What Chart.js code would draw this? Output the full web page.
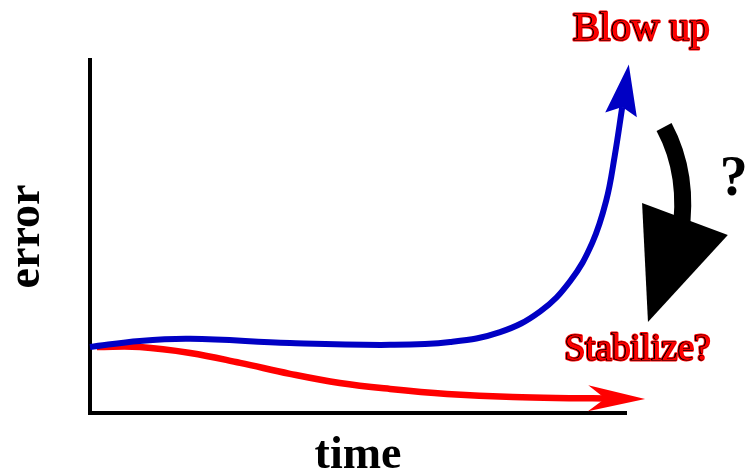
<!DOCTYPE html>
<html>
<head>
<meta charset="utf-8">
<script src="https://cdn.jsdelivr.net/npm/chart.js@4/dist/chart.umd.min.js"></script>
<style>
  html, body { margin: 0; padding: 0; background: #fff; }
  #wrap { width: 745px; height: 472px; }
</style>
</head>
<body>
<div id="wrap"><canvas id="errChart"></canvas></div>
<script>
// time / error samples (axis units 0..10)
var timeBlue = [0, 0.93, 1.87, 3.73, 5.6, 6.72, 7.65, 8.4, 8.96, 9.37, 9.63, 9.79, 9.93];
var errorBlue = [1.87, 2.04, 2.10, 1.98, 1.93, 2.01, 2.29, 2.88, 3.74, 4.82, 6.01, 7.29, 8.67];
var timeRed = [0.13, 0.93, 1.87, 2.8, 3.73, 4.66, 5.6, 6.66, 7.89, 9.14, 9.61];
var errorRed = [1.87, 1.87, 1.70, 1.42, 1.11, 0.85, 0.68, 0.54, 0.45, 0.42, 0.41];

var xAxisLabel = 'time';
var yAxisLabel = 'error';
var blowUpLabel = 'Blow up';
var stabilizeLabel = 'Stabilize?';
var questionLabel = '?';

function toPoints(xs, ys) {
    return xs.map(function (x, i) { return { x: x, y: ys[i] }; });
}

// arrow heads at the end of each line
var arrowHeads = {
    id: 'arrowHeads',
    afterDatasetsDraw: function (chart) {
        var ctx = chart.ctx;
        chart.data.datasets.forEach(function (ds, i) {
            var pts = chart.getDatasetMeta(i).data;
            var n = pts.length;
            var p = pts[n - 1], q = pts[n - 2];
            var dx = p.x - q.x, dy = p.y - q.y;
            var len = Math.sqrt(dx * dx + dy * dy);
            var ux = dx / len, uy = dy / len;
            var vx = -uy, vy = ux;
            var h = ds.head;
            ctx.save();
            ctx.fillStyle = ds.borderColor;
            ctx.beginPath();
            ctx.moveTo(p.x + ux * h.length, p.y + uy * h.length);
            ctx.lineTo(p.x - ux * h.back + vx * h.half, p.y - uy * h.back + vy * h.half);
            ctx.lineTo(p.x, p.y);
            ctx.lineTo(p.x - ux * h.back - vx * h.half, p.y - uy * h.back - vy * h.half);
            ctx.closePath();
            ctx.fill();
            ctx.restore();
        });
    }
};

// the labels and the big black arrow on the right
var notes = {
    id: 'notes',
    afterDraw: function (chart) {
        var ctx = chart.ctx;
        var xs = chart.scales.x, ys = chart.scales.y;
        function px(x) { return xs.getPixelForValue(x); }
        function py(y) { return ys.getPixelForValue(y); }

        function outlined(text, x, y, size) {
            ctx.save();
            ctx.font = size + 'px "Liberation Serif"';
            ctx.textAlign = 'center';
            ctx.textBaseline = 'alphabetic';
            ctx.lineJoin = 'round';
            ctx.strokeStyle = '#ff0000';
            ctx.lineWidth = 3;
            ctx.strokeText(text, px(x), py(y));
            ctx.strokeStyle = '#000';
            ctx.lineWidth = 1.2;
            ctx.strokeText(text, px(x), py(y));
            ctx.fillStyle = '#ff0000';
            ctx.fillText(text, px(x) + 0.8, py(y) + 0.4);
            ctx.restore();
        }

        outlined(blowUpLabel, 10.28, 10.57, 40);
        outlined(stabilizeLabel, 10.21, 1.50, 37);

        ctx.save();
        ctx.font = 'bold 56px "Liberation Serif"';
        ctx.textAlign = 'center';
        ctx.fillStyle = '#000';
        ctx.fillText(questionLabel, px(12.01), py(6.17));
        ctx.restore();

        // curved shaft
        ctx.save();
        ctx.strokeStyle = '#000';
        ctx.fillStyle = '#000';
        ctx.lineWidth = 17;
        ctx.lineCap = 'butt';
        ctx.beginPath();
        ctx.moveTo(px(10.71), py(8.10));
        ctx.quadraticCurveTo(px(11.19), py(6.74), px(11.01), py(5.0));
        ctx.stroke();
        // head
        ctx.beginPath();
        ctx.moveTo(px(10.30), py(5.95));
        ctx.lineTo(px(11.90), py(5.04));
        ctx.lineTo(px(10.41), py(2.58));
        ctx.closePath();
        ctx.fill();
        ctx.restore();
    }
};

var ctx = document.getElementById('errChart').getContext('2d');
new Chart(ctx, {
    type: 'line',
    data: {
        datasets: [{
            label: 'blow up',
            data: toPoints(timeBlue, errorBlue),
            borderColor: '#0000c4',
            borderWidth: 6,
            pointRadius: 0,
            tension: 0.4,
            clip: false,
            head: { length: 43, back: 8, half: 16 }
        }, {
            label: 'stabilize',
            data: toPoints(timeRed, errorRed),
            borderColor: '#ff0000',
            borderWidth: 6.5,
            pointRadius: 0,
            tension: 0.4,
            clip: false,
            head: { length: 40, back: 17, half: 13 }
        }]
    },
    options: {
        responsive: true,
        maintainAspectRatio: false,
        animation: false,
        layout: { padding: { left: 0, top: 60, right: 119, bottom: 0 } },
        plugins: {
            legend: { display: false },
            tooltip: { enabled: false }
        },
        scales: {
            x: {
                type: 'linear',
                min: 0,
                max: 10,
                grid: { display: false },
                ticks: { display: false },
                border: { display: true, color: '#000', width: 4 },
                title: {
                    display: true,
                    text: xAxisLabel,
                    color: '#000',
                    padding: 0,
                    font: { family: '"Liberation Serif"', size: 46, weight: 'bold', lineHeight: 0.7 }
                },
                afterFit: function (scale) { scale.height = 59; }
            },
            y: {
                type: 'linear',
                min: 0,
                max: 10,
                grid: { display: false },
                ticks: { display: false },
                border: { display: true, color: '#000', width: 4 },
                title: {
                    display: true,
                    text: yAxisLabel,
                    color: '#000',
                    padding: { top: 11, bottom: 0 },
                    font: { family: '"Liberation Serif"', size: 46, weight: 'bold', lineHeight: 0.7 }
                },
                afterFit: function (scale) { scale.width = 90; }
            }
        }
    },
    plugins: [arrowHeads, notes]
});
</script>
</body>
</html>
